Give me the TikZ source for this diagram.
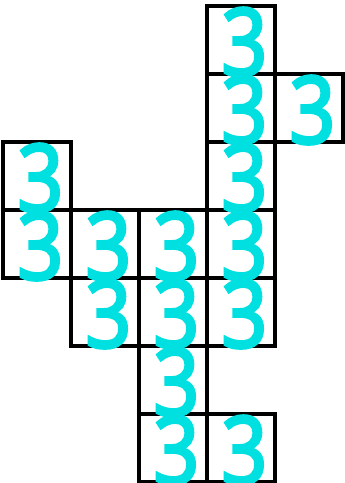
\documentclass[tikz,border=0pt]{standalone}
\usepackage{fontspec}
\newfontfamily\digitfont[FakeStretch=0.85, FakeBold=3.5]{Open Sans}
\definecolor{digitcyan}{RGB}{0,224,224}
\begin{document}
\begin{tikzpicture}[x=1cm, y=1cm,
    cellbox/.style={draw, line width=1.4pt, minimum size=1cm, inner sep=0pt, outer sep=0pt},
    digit/.style={text=digitcyan, font=\digitfont\fontsize{39}{39}\selectfont, inner sep=0pt}]
    \useasboundingbox (-0.044,0.088) rectangle (5.015,-7.015);
    % the cells, as column/row from the top left
    \foreach \c/\r [count=\k] in {3/0, 3/1, 4/1, 0/2, 3/2, 0/3, 1/3, 2/3, 3/3, 1/4, 2/4, 3/4, 2/5, 2/6, 3/6} {
        \node[cellbox] (cell\k) at (\c+0.5, -\r-0.5) {};
    }
    % the digits go on top of the borders
    \foreach \k in {1,...,15} {
        \node[digit] (num\k) at ([shift={(0.05,-0.03)}]cell\k.center) {3};
    }
\end{tikzpicture}
\end{document}
